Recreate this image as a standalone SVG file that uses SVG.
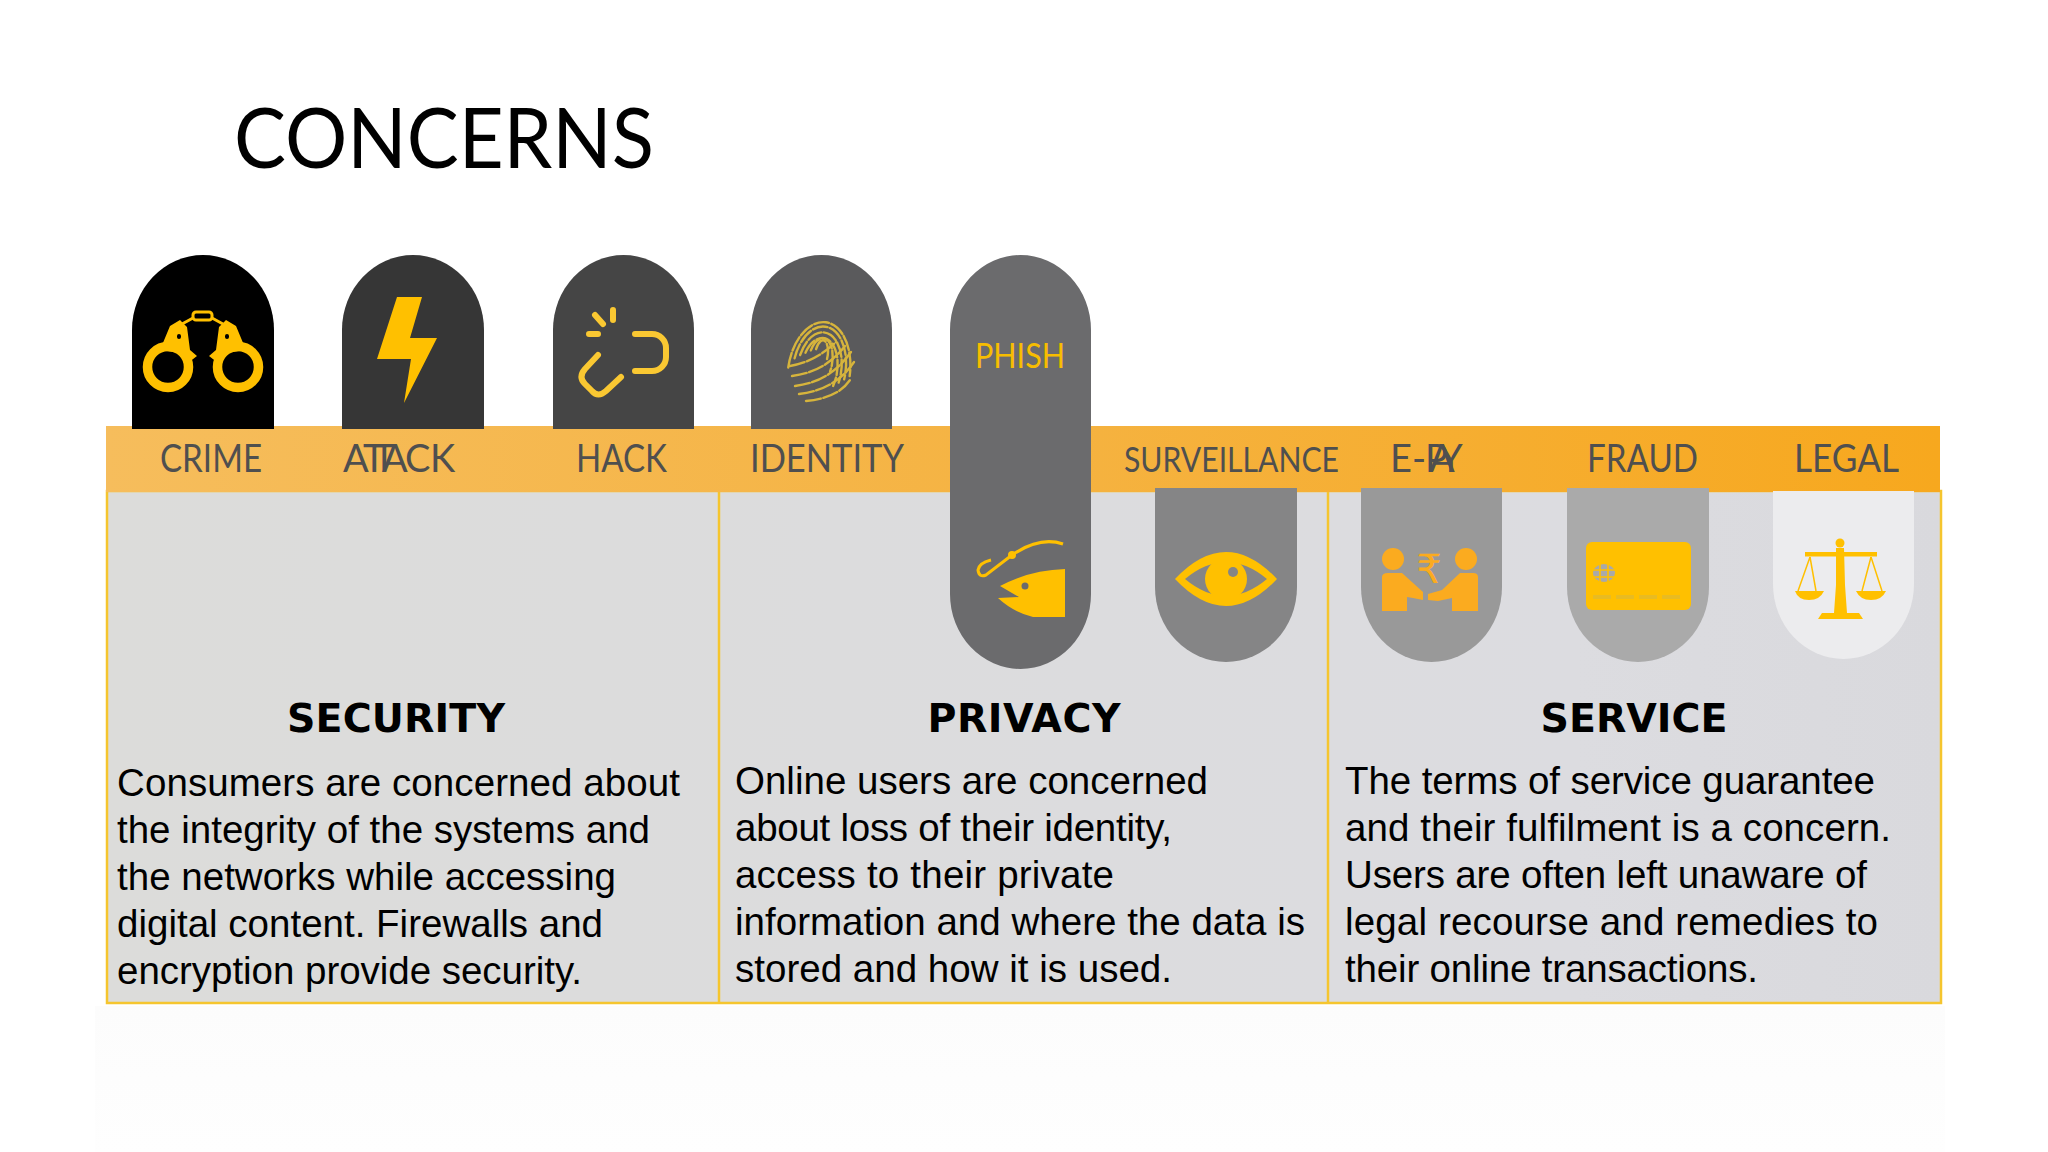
<svg xmlns="http://www.w3.org/2000/svg" width="2048" height="1152" viewBox="0 0 2048 1152">
<defs>
<linearGradient id="bar" x1="0" x2="1" y1="0" y2="0"><stop offset="0" stop-color="#f6bd5c"/><stop offset="0.5" stop-color="#f5b342"/><stop offset="1" stop-color="#f7a81e"/></linearGradient>
<linearGradient id="panel" x1="0" x2="1" y1="0" y2="0"><stop offset="0" stop-color="#dcdcda"/><stop offset="0.8" stop-color="#dcdce0"/><stop offset="1" stop-color="#d9d9dd"/></linearGradient>
<linearGradient id="refl" x1="0" x2="0" y1="0" y2="1"><stop offset="0" stop-color="#fcfcfc"/><stop offset="1" stop-color="#fefefe"/></linearGradient>
</defs>
<style>
.lab{font-family:"Lato","Open Sans",sans-serif;font-size:38px;fill:#4f4f4f}
.head{font-family:"DejaVu Sans",sans-serif;font-weight:700;font-size:39.5px;fill:#000;text-anchor:middle}
.body{font-family:"Liberation Sans",Arial,sans-serif;font-size:38.5px;fill:#000}
.y{fill:#ffc000}
.o{fill:#fbab1f}
</style>
<rect width="2048" height="1152" fill="#fff"/>
<rect x="95" y="1006" width="1850" height="146" fill="url(#refl)"/>
<text x="234" y="168" font-family="Lato,'Open Sans',sans-serif" font-size="84" fill="#000" textLength="420" lengthAdjust="spacingAndGlyphs">CONCERNS</text>
<g id="panels">
<rect x="107" y="491" width="1834" height="512" fill="url(#panel)" stroke="#f5c52e" stroke-width="2.5"/>
<path d="M719 491V1003M1328 491V1003" stroke="#f5c52e" stroke-width="2.5" fill="none"/>
</g>
<rect id="bar-band" x="106" y="426" width="1834" height="66" fill="url(#bar)"/>
<g id="crime">
<path d="M132 429V330A71 75 0 0 1 274 330V429Z" fill="#000"/>
<g class="y"><path d="M170 326L180 320L187 327L190 350L197 356L188 363L186 354L160 350Z"/><path d="M236 326L226 320L219 327L216 350L209 356L218 363L220 354L246 350Z"/></g>
<g fill="none" stroke="#ffc000"><circle cx="168" cy="367" r="20.5" stroke-width="9.5"/><circle cx="238" cy="367" r="20.5" stroke-width="9.5"/><rect x="193" y="312" width="19" height="8" rx="3" stroke-width="3"/><path d="M193 318L182 324M212 318L223 324" stroke-width="3"/></g>
<path d="M179 337v-1M227 337v-1" stroke="#000" stroke-width="4" stroke-linecap="round"/>
</g>
<g id="attack">
<path d="M342 429V330A71 75 0 0 1 484 330V429Z" fill="#363636"/>
<path class="y" d="M397 297H422L410 338H437L404 403L411 359H377Z"/>
</g>
<g id="hack">
<path d="M553 429V330A70.5 75 0 0 1 694 330V429Z" fill="#454545"/>
<g fill="none" stroke="#fac832" stroke-width="6" stroke-linecap="round"><path d="M635 334H652A14 14 0 0 1 666 348V357A14 14 0 0 1 652 371H635"/><path d="M598 355L585 369Q578 377 585 384L592 391Q598 398 606 391L621 377"/><path d="M595 315L603 324M613 310V320M589 334H598"/></g>
</g>
<g id="identity">
<path d="M751 429V330A70.5 75 0 0 1 892 330V429Z" fill="#5a5a5c"/>
<g fill="none" stroke="#d6b43c" stroke-width="2.4" stroke-dasharray="15 2.5" stroke-linecap="round">
<g transform="rotate(8 822 350)">
<path d="M791 372A31 50 0 1 1 853 372"/><path d="M796 362A26 42 0 1 1 848 376"/><path d="M801 358A21 35 0 1 1 843 380"/><path d="M806 355A16 28 0 1 1 838 384"/><path d="M811 352A11 21 0 1 1 833 370"/><path d="M816 350A6 14 0 1 1 828 360"/></g>
<path d="M790 366Q815 362 836 342M792 376Q825 372 845 346M795 386Q830 382 851 352M799 394Q835 390 854 362M806 401Q838 398 850 380"/>
</g>
</g>
<g id="phish">
<path d="M950 330A70.5 75 0 0 1 1091 330V594A70.5 75 0 0 1 950 594Z" fill="#6b6b6d"/>
<text x="975" y="368" font-family="Lato,'Open Sans',sans-serif" font-size="34" fill="#f7bd00" textLength="90" lengthAdjust="spacingAndGlyphs">PHISH</text>
<path class="y" d="M1065 569V617L1033 617Q1013 612 998 598L1019 597L1000 586Q1030 570 1065 569Z"/>
<circle cx="1025" cy="586" r="3.5" fill="#6b6b6d"/>
<path d="M1063 544Q1040 536 1012 555L986 575Q979 578 978 570Q979 563 991 560" fill="none" stroke="#ffc000" stroke-width="3"/><circle cx="1012" cy="555" r="4" class="y"/>
</g>
<g id="surveillance">
<path d="M1155 488H1297V587A71 75 0 0 1 1155 587Z" fill="#858586"/>
<path class="y" fill-rule="evenodd" d="M1175 579Q1226 525 1277 579Q1226 633 1175 579ZM1185 579Q1226 545 1267 579Q1226 613 1185 579Z"/>
<circle class="y" cx="1226" cy="579" r="21"/><circle cx="1233" cy="572" r="5" fill="#858586"/>
</g>
<g id="epay">
<path d="M1361 488H1502V587A70.5 75 0 0 1 1361 587Z" fill="#999"/>
<g class="o"><circle cx="1393" cy="559" r="11"/><circle cx="1466" cy="559" r="11"/>
<path d="M1382 577Q1382 573 1388 573H1402L1423 592V600L1413 598L1407 597V611H1382Z"/><path d="M1478 577Q1478 573 1473 573H1460L1442 590L1428 594V600L1438 601L1452 598V611H1478Z"/></g>
<text x="1429" y="583" font-family="'DejaVu Sans',sans-serif" font-size="40" fill="#fbab1f" text-anchor="middle">₹</text>
</g>
<g id="fraud">
<path d="M1567 488H1709V587A71 75 0 0 1 1567 587Z" fill="#aaa"/>
<rect class="y" x="1586" y="542" width="105" height="68" rx="6"/>
<ellipse cx="1604" cy="573" rx="11" ry="9" fill="#a9a9a9"/>
<path d="M1593 570H1615M1593 577H1615M1600 564V582M1608 564V582" stroke="#ffc000" stroke-width="1.6"/>
<path d="M1593 597H1685" stroke="#e8bb22" stroke-width="4" stroke-dasharray="18 5"/>
</g>
<g id="legal">
<path d="M1773 491H1914V584A70.5 75 0 0 1 1773 584Z" fill="#ececee"/>
<g class="y"><circle cx="1840" cy="543" r="4.5"/><rect x="1805" y="552" width="72" height="4.5"/><path d="M1836 548H1844L1845 585L1847 613H1834L1836 585Z"/><path d="M1818 619L1822 613H1859L1863 619Z"/>
<path d="M1795 591H1824Q1820 600 1809 600Q1798 600 1795 591Z"/><path d="M1856 591H1886Q1882 600 1871 600Q1860 600 1856 591Z"/></g>
<path d="M1810 557L1798 591M1810 557L1816 591M1871 557L1862 591M1871 557L1882 591" stroke="#ffc000" stroke-width="1.5" fill="none"/>
</g>
<g id="labels">
<text class="lab" x="160" y="472" textLength="102" lengthAdjust="spacingAndGlyphs">CRIME</text>
<text class="lab" x="343 363 373 382 405 430" y="472">ATTACK</text>
<text class="lab" x="576" y="472" textLength="91" lengthAdjust="spacingAndGlyphs">HACK</text>
<text class="lab" x="750" y="472" textLength="154" lengthAdjust="spacingAndGlyphs">IDENTITY</text>
<text class="lab" x="1124" y="472" textLength="215" lengthAdjust="spacingAndGlyphs" style="font-size:34px">SURVEILLANCE</text>
<text class="lab" x="1390 1412 1425 1429 1439" y="472">E-PAY</text>
<text class="lab" x="1587" y="472" textLength="111" lengthAdjust="spacingAndGlyphs">FRAUD</text>
<text class="lab" x="1794" y="472" textLength="105" lengthAdjust="spacingAndGlyphs">LEGAL</text>
</g>
<g id="security">
<text class="head" x="396" y="732" textLength="218">SECURITY</text>
<text class="body" x="117" y="796" textLength="563">Consumers are concerned about</text>
<text class="body" x="117" y="843" textLength="533">the integrity of the systems and</text>
<text class="body" x="117" y="890" textLength="499">the networks while accessing</text>
<text class="body" x="117" y="937" textLength="486">digital content. Firewalls and</text>
<text class="body" x="117" y="984" textLength="465">encryption provide security.</text>
</g>
<g id="privacy">
<text class="head" x="1024" y="732" textLength="193">PRIVACY</text>
<text class="body" x="735" y="794" textLength="473">Online users are concerned</text>
<text class="body" x="735" y="841" textLength="437">about loss of their identity,</text>
<text class="body" x="735" y="888" textLength="379">access to their private</text>
<text class="body" x="735" y="935" textLength="570">information and where the data is</text>
<text class="body" x="735" y="982" textLength="437">stored and how it is used.</text>
</g>
<g id="service">
<text class="head" x="1634" y="732" textLength="187">SERVICE</text>
<text class="body" x="1345" y="794" textLength="530">The terms of service guarantee</text>
<text class="body" x="1345" y="841" textLength="546">and their fulfilment is a concern.</text>
<text class="body" x="1345" y="888" textLength="522">Users are often left unaware of</text>
<text class="body" x="1345" y="935" textLength="533">legal recourse and remedies to</text>
<text class="body" x="1345" y="982" textLength="413">their online transactions.</text>
</g>
</svg>
